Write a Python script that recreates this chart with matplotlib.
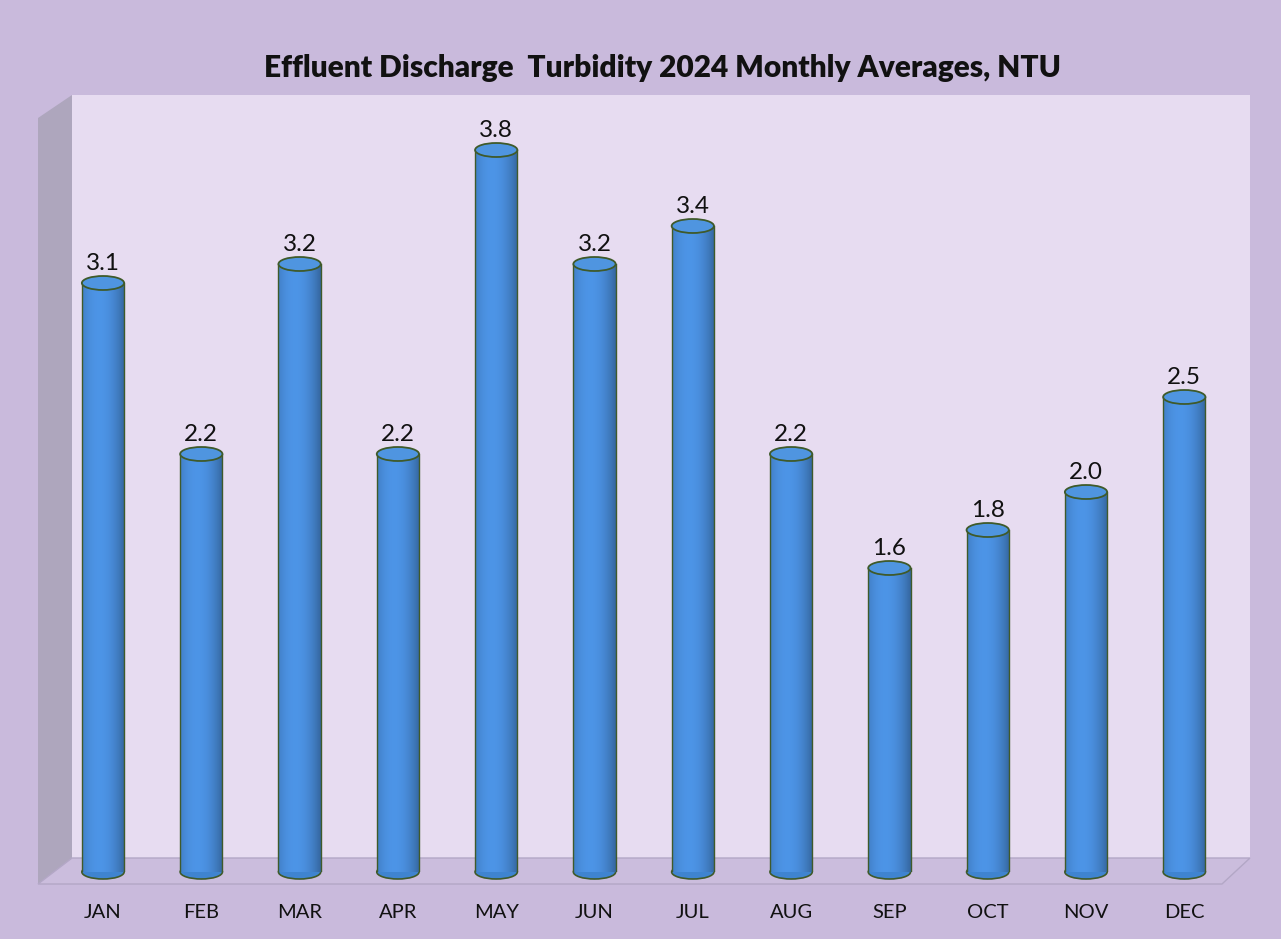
import matplotlib
matplotlib.use("Agg")
import matplotlib.pyplot as plt
import numpy as np
from matplotlib.patches import Polygon, Rectangle, Ellipse

months = ["JAN", "FEB", "MAR", "APR", "MAY", "JUN", "JUL", "AUG", "SEP", "OCT", "NOV", "DEC"]
turbidity = [3.1, 2.2, 3.2, 2.2, 3.8, 3.2, 3.4, 2.2, 1.6, 1.8, 2.0, 2.5]
title = "Effluent Discharge  Turbidity 2024 Monthly Averages, NTU"

W, H = 1281, 939
plt.rcParams['font.family'] = ['Lato', 'DejaVu Sans']
fig = plt.figure(figsize=(W / 100, H / 100), dpi=100)
fig.patch.set_facecolor("#c9badc")

# background 3d box drawn in pixel space
bg = fig.add_axes([0, 0, 1, 1])
bg.set_xlim(0, W)
bg.set_ylim(H, 0)
bg.axis("off")
bg.add_patch(Polygon([(72, 95), (1250, 95), (1250, 858), (72, 858)], closed=True,
                     facecolor="#e7dcf1", edgecolor="none"))
bg.add_patch(Polygon([(38, 118), (72, 95), (72, 858), (38, 884)], closed=True,
                     facecolor="#aea6bd", edgecolor="none"))
bg.add_patch(Polygon([(72, 858), (1250, 858), (1222, 884), (38, 884)], closed=True,
                     facecolor="#cbbddd", edgecolor="#b3a7c6", linewidth=1))
bg.text(663, 68, title, ha="center", va="center", fontsize=21.5, fontweight="heavy", color="#111111")

# bars axes: x = month index, y = NTU
px0, pstep, base_px, px_per_unit = 103, 98.3, 872, 190
ymax = 4.0
left = (px0 - pstep / 2) / W
width = pstep * 12 / W
bottom = (H - base_px) / H
height = px_per_unit * ymax / H
ax = fig.add_axes([left, bottom, width, height])
ax.set_xlim(-0.5, 11.5)
ax.set_ylim(0, ymax)
ax.axis("off")
ax.patch.set_alpha(0)

bw = 0.43
eh = 14 / px_per_unit
grad = np.linspace(0, 1, 64)
shade = 1.04 - 0.9 * (grad - 0.4) ** 2
base_rgb = np.array([0.29, 0.56, 0.87])
img = np.clip(base_rgb[None, None, :] * shade[None, :, None], 0, 1)
edge = "#3f5a2a"

for i, v in enumerate(turbidity):
    x0 = i - bw / 2
    ax.add_patch(Ellipse((i, 0), bw, eh, facecolor="#3f84d0", edgecolor=edge, linewidth=1.2,
                         zorder=2, clip_on=False))
    body = Rectangle((x0, 0), bw, v, facecolor="#4a90dc", edgecolor="none", zorder=3)
    ax.add_patch(body)
    im = ax.imshow(np.repeat(img, 2, axis=0), extent=(x0, x0 + bw, 0, v), aspect="auto", zorder=3.5)
    im.set_clip_path(body)
    ax.plot([x0, x0], [0, v], color=edge, linewidth=1, zorder=4)
    ax.plot([x0 + bw, x0 + bw], [0, v], color=edge, linewidth=1, zorder=4)
    ax.add_patch(Ellipse((i, v), bw, eh, facecolor="#4f95e0", edgecolor=edge, linewidth=1.3, zorder=5))
    ax.text(i, v + eh / 2 + 0.01, f"{v:.1f}", ha="center", va="bottom", fontsize=17.5, color="#111111", zorder=6)
    ax.text(i, -(912 - base_px) / px_per_unit, months[i], ha="center", va="center",
            fontsize=14.5, color="#111111", clip_on=False)

fig.savefig("out.png", dpi=100, facecolor=fig.get_facecolor())
